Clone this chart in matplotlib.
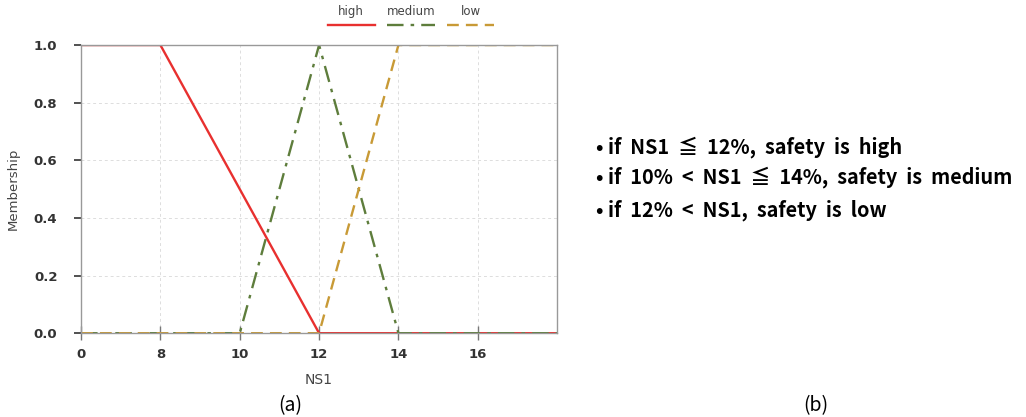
import numpy as np
import matplotlib
matplotlib.use("Agg")
import matplotlib.pyplot as plt
from matplotlib.offsetbox import VPacker

# membership functions for NS1
tick_vals = [0, 8, 10, 12, 14, 16, 18]
high_x = [0, 8, 12, 18]
high_y = [1, 1, 0, 0]
medium_x = [0, 10, 12, 14, 18]
medium_y = [0, 0, 1, 0, 0]
low_x = [0, 12, 14, 18]
low_y = [0, 0, 1, 1]
rules = ["• if  NS1  ≦  12%,  safety  is  high",
         "• if  10%  <  NS1  ≦  14%,  safety  is  medium",
         "• if  12%  <  NS1,  safety  is  low"]

# the x axis puts the ticks evenly, so map values onto tick index
idx = np.arange(len(tick_vals), dtype=float)
def fwd(x):
    return np.interp(x, tick_vals, idx)
def inv(p):
    return np.interp(p, idx, tick_vals)

fig = plt.figure(figsize=(10.26, 4.17), dpi=100)
ax = fig.add_axes([0.079, 0.201, 0.464, 0.691])
ax.set_xscale('function', functions=(fwd, inv))

ax.plot(high_x, high_y, color='#e8302f', lw=1.7, label='high')
ax.plot(medium_x, medium_y, color='#5e7d3c', lw=1.7, ls=(0, (7, 3, 1.5, 3)), label='medium')
ax.plot(low_x, low_y, color='#c89a36', lw=1.7, ls=(0, (5, 3)), label='low')

ax.set_xlim(0, 18)
ax.set_ylim(0, 1)
ax.set_xticks(tick_vals[:-1])
ax.set_xticklabels([str(v) for v in tick_vals[:-1]], fontweight='bold', color='#333333', fontsize=9.5)
ax.set_yticks(np.arange(0, 1.01, 0.2))
ax.set_yticklabels(['%.1f' % v for v in np.arange(0, 1.01, 0.2)], fontweight='bold', color='#333333', fontsize=9.5)
ax.tick_params(axis='y', length=5, width=1.2, color='#333333', pad=12)
ax.tick_params(axis='x', direction='inout', length=10, width=1, color='#777777', pad=6)
ax.grid(True, ls=(0, (3, 3)), color='#dddddd', lw=0.7)
for s in ax.spines.values():
    s.set_color('#999999')
    s.set_linewidth(1)

ax.set_xlabel('NS1', fontsize=10, color='#444444', labelpad=8)
ax.set_ylabel('Membership', fontsize=9.5, color='#444444', labelpad=10)

leg = ax.legend(loc='lower right', bbox_to_anchor=(0.868, 1.055), ncol=3, frameon=False,
                fontsize=8.5, handlelength=4.0, columnspacing=1.0, borderaxespad=0,
                borderpad=0)
for t in leg.get_texts():
    t.set_color('#444444')
# put labels above the line samples
for col in leg._legend_handle_box.get_children():
    new = []
    for item in col.get_children():
        h, t = item.get_children()
        new.append(VPacker(pad=0, sep=2, children=[t, h], align='center'))
    col._children = new

ys = [0.648, 0.575, 0.497]
for txt, y in zip(rules, ys):
    fig.text(0.581, y, txt, fontsize=14.3, fontweight='bold',
             family=['Noto Sans CJK KR', 'DejaVu Sans'], va='center')

fig.text(0.283, 0.015, '(a)', fontsize=14, ha='center', family=['Noto Sans CJK KR'])
fig.text(0.795, 0.015, '(b)', fontsize=14, ha='center', family=['Noto Sans CJK KR'])

fig.savefig('out.png', dpi=100)
